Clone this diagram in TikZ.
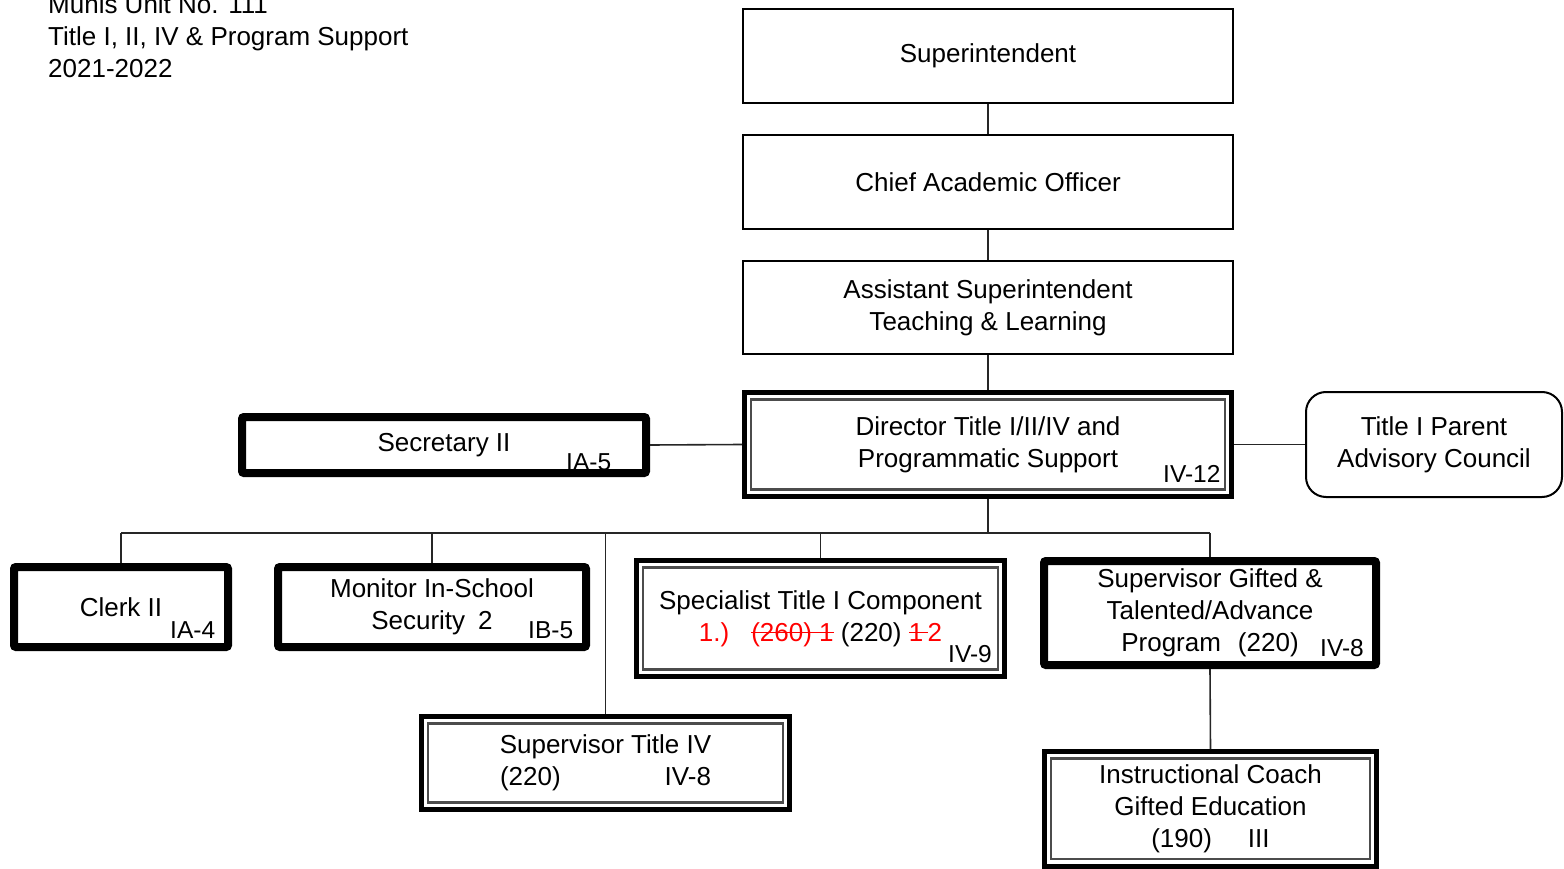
\documentclass[tikz,border=0pt]{standalone}
\usepackage{fontspec}
\setmainfont{Liberation Sans}
% struck-out text: a rule drawn across the boxed text
\newsavebox{\strkbox}
\newcommand{\strk}[1]{\sbox{\strkbox}{#1}\rlap{\rule[0.3em]{\wd\strkbox}{1.6pt}}\usebox{\strkbox}}
\begin{document}
\begin{tikzpicture}[x=1pt,y=-1pt,
  txt/.style={font=\fontsize{26}{32}\selectfont, align=center, inner sep=0pt},
  hdr/.style={font=\fontsize{26}{32}\selectfont, anchor=base west, inner sep=0pt},
  tag/.style={font=\fontsize{24.5}{30}\selectfont, anchor=base west, inner sep=0pt},
  plainbox/.style={txt, draw, line width=2pt},
  heavybox/.style={txt, draw, line width=8pt, rounded corners=2pt},
  framedbox/.style={txt, draw, line width=5pt,
    path picture={\draw[black!70, line width=2.5pt]
      ([shift={(6.5pt,-7pt)}]path picture bounding box.north west) rectangle
      ([shift={(-6.5pt,7pt)}]path picture bounding box.south east);}},
  roundbox/.style={txt, draw, line width=2pt, rounded corners=20pt},
  link/.style={draw=black!85, line width=1.6pt}]

\fill[white] (0,0) rectangle (1564,869);
\useasboundingbox (0,0) rectangle (1564,869);

% heading
\node[hdr] (h1) at (48,14) {Munis Unit No. 111};
\node[hdr] (h2) at (48,46) {Title I, II, IV \& Program Support};
\node[hdr] (h3) at (48,78) {2021-2022};

% chain of command
\node[plainbox, minimum width=490pt, minimum height=94pt] (sup) at (988,56) {Superintendent};
\node[plainbox, minimum width=490pt, minimum height=94pt] (cao) at (988,182) {Chief Academic Officer};
\node[plainbox, minimum width=490pt, minimum height=93pt] (asst) at (988,307.5) {Assistant Superintendent\\Teaching \& Learning};
\node[framedbox, minimum width=487pt, minimum height=104pt] (dir) at (988,444.5) {Director Title I/II/IV and\\Programmatic Support};
\node[tag] (dirtag) at (1163,482) {IV-12};

% side boxes
\node[heavybox, minimum width=404pt, minimum height=56pt] (sec) at (444,445) {Secretary II};
\node[tag] (sectag) at (566,470) {IA-5};
\node[roundbox, minimum width=256pt, minimum height=105pt] (par) at (1434,444.5) {Title I Parent\\Advisory Council};

% staff row
\node[heavybox, minimum width=214pt, minimum height=80pt] (clerk) at (121,607) {Clerk II};
\node[tag] (clerktag) at (170,638) {IA-4};
\node[heavybox, minimum width=308pt, minimum height=80pt] (mon) at (432,607) {Monitor In-School\\Security\hspace{13pt}2};
\node[tag] (montag) at (528,638) {IB-5};
\node[framedbox, minimum width=368pt, minimum height=116pt] (spec) at (820.5,618.5)
  {Specialist Title I Component\\\textcolor{red}{1.)}\hspace{22pt}\textcolor{red}{\strk{(260) 1}} (220) \textcolor{red}{\strk{1\,}2}};
\node[tag] (spectag) at (948,662) {IV-9};
\node[heavybox, minimum width=332pt, minimum height=104pt] (gift) at (1210,613)
  {Supervisor Gifted \&\\Talented/Advance\\Program\hspace{17pt}(220)};
\node[tag] (gifttag) at (1320,656) {IV-8};

% lower row
\node[framedbox, minimum width=368pt, minimum height=93pt] (t4) at (605.5,763) {Supervisor Title IV\\(220)\hspace{104pt}IV-8};
\node[framedbox, minimum width=332pt, minimum height=114.5pt] (coach) at (1210.5,808.75)
  {Instructional Coach\\Gifted Education\\(190)\hspace{36pt}III};

% connectors
\coordinate (busL) at (121,533);
\coordinate (busR) at (1210,533);
\path[link] (sup.south) -- (cao.north);
\path[link] (cao.south) -- (asst.north);
\path[link] (asst.south) -- (dir.north);
\path[link] (sec.east) -- (dir.west);
\path[link] (dir.east) -- (par.west);
\path[link] (dir.south) -- (dir.south |- busL);
\path[link] (busL) -- (busR);
\path[link] (clerk.north) -- (clerk.north |- busL);
\path[link] (mon.north) -- (mon.north |- busL);
\path[link] (spec.north) -- (spec.north |- busL);
\path[link] (gift.north) -- (gift.north |- busL);
\path[link] (t4.north) -- (t4.north |- busL);
\path[link] (gift.south) -- (coach.north);
\end{tikzpicture}
\end{document}
